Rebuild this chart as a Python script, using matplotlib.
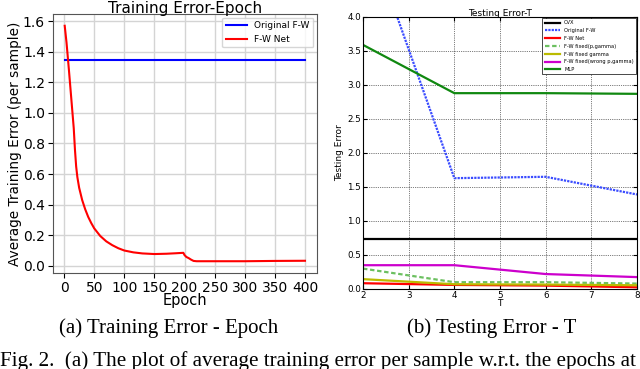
import matplotlib
matplotlib.use("Agg")
from matplotlib import pyplot as plt

# left panel: training error vs epoch
epochs = [1, 4, 8, 12, 16, 18, 20, 22, 25, 30, 35, 40, 45, 50, 60, 70, 80, 90,
          100, 115, 130, 150, 170, 185, 198, 200, 203, 207, 211, 215, 220,
          250, 300, 350, 400]
fw_net_train = [1.57, 1.46, 1.28, 1.09, 0.90, 0.76, 0.65, 0.58, 0.51, 0.43,
                0.37, 0.32, 0.28, 0.245, 0.195, 0.16, 0.135, 0.115, 0.10,
                0.088, 0.081, 0.077, 0.079, 0.082, 0.085, 0.07, 0.058, 0.05,
                0.04, 0.032, 0.030, 0.030, 0.030, 0.032, 0.033]
original_fw_train = 1.345

# right panel: testing error vs T
T = [2, 4, 6, 8]
cvx = [0.74, 0.74, 0.74, 0.74]
original_fw = [5.42, 1.63, 1.65, 1.39]
fw_net = [0.085, 0.06, 0.05, 0.025]
fw_fixed_pg = [0.30, 0.10, 0.10, 0.08]
fw_fixed_gamma = [0.145, 0.07, 0.065, 0.055]
fw_fixed_wrong = [0.35, 0.35, 0.22, 0.175]
mlp = [3.59, 2.88, 2.88, 2.87]

fig = plt.figure(figsize=(6.4, 3.69), dpi=100)
W, H = 640.0, 369.0

# ---- (a) ----
ax1 = fig.add_axes([52.7 / W, (H - 273) / H, (317 - 52.7) / W, (273 - 14) / H])
ax1.plot([epochs[0], epochs[-1]], [original_fw_train] * 2, color='blue', lw=1.5, label='Original F-W')
ax1.plot(epochs, fw_net_train, color='red', lw=1.5, label='F-W Net')
ax1.grid(True, color='#d4d4d4', lw=1.0)
ax1.set_axisbelow(True)
ax1.set_xticks(range(0, 401, 50))
ax1.set_yticks([0.0, 0.2, 0.4, 0.6, 0.8, 1.0, 1.2, 1.4, 1.6])
ax1.tick_params(labelsize=10, length=3.5, pad=2)
ax1.text(0.5, 1 + 1.5 / 260, 'Training Error-Epoch', transform=ax1.transAxes,
         ha='center', va='baseline', fontsize=11)
ax1.set_xlabel('Epoch', fontsize=10.5, labelpad=-1)
ax1.set_ylabel('Average Training Error (per sample)', fontsize=9.8, labelpad=1)
ax1.legend(loc='upper right', fontsize=6.5, handlelength=2.4, borderaxespad=0.4)
for s in ax1.spines.values():
    s.set_color('#555555')

# ---- (b) ----
ax2 = fig.add_axes([363 / W, (H - 289) / H, 274 / W, 272 / H])
ax2.plot(T, cvx, color='black', lw=1.6, label='CVX')
ax2.plot(T, original_fw, color='#3a4cff', lw=1.6, ls=(0, (1, 0.5)), label='Original F-W')
ax2.plot(T, fw_net, color='red', lw=1.6, label='F-W Net')
ax2.plot(T, fw_fixed_pg, color='#6cc060', lw=1.6, ls=(0, (2, 1.2)), label='F-W fixed(p,gamma)')
ax2.plot(T, fw_fixed_gamma, color='#bbbb00', lw=1.6, label='F-W fixed gamma')
ax2.plot(T, fw_fixed_wrong, color='#cc00cc', lw=1.6, label='F-W fixed(wrong p,gamma)')
ax2.plot(T, mlp, color='#108810', lw=1.6, label='MLP')
ax2.set_xlim(2, 8)
ax2.set_ylim(0, 4)
ax2.set_yticks([0.0, 0.5, 1.0, 1.5, 2.0, 2.5, 3.0, 3.5, 4.0])
ax2.grid(True, color='black', ls=':', lw=0.5)
ax2.tick_params(direction='in', top=True, right=True, labelsize=6.3, length=3, pad=1.5)
ax2.set_title('Testing Error-T', fontsize=6.5, pad=1)
ax2.set_xlabel('T', fontsize=6.5, labelpad=-1)
ax2.set_ylabel('Testing Error', fontsize=6.5, labelpad=2)
leg = ax2.legend(loc='upper right', fontsize=3.7, handlelength=3, borderaxespad=0.25,
                 fancybox=False, edgecolor='black', framealpha=1, labelspacing=0.55)
leg.get_frame().set_linewidth(0.5)

# captions
fig.text(169 / W, 1 - 333.5 / H, '(a) Training Error - Epoch', ha='center', va='baseline',
         family='Liberation Serif', fontsize=15)
fig.text(492 / W, 1 - 333.5 / H, '(b) Testing Error - T', ha='center', va='baseline',
         family='Liberation Serif', fontsize=15)
fig.text(0 / W, 1 - 366 / H,
         'Fig. 2.  (a) The plot of average training error per sample w.r.t. the epochs at',
         ha='left', va='baseline', family='Liberation Serif', fontsize=15.2)

fig.savefig('out.png', dpi=100)
